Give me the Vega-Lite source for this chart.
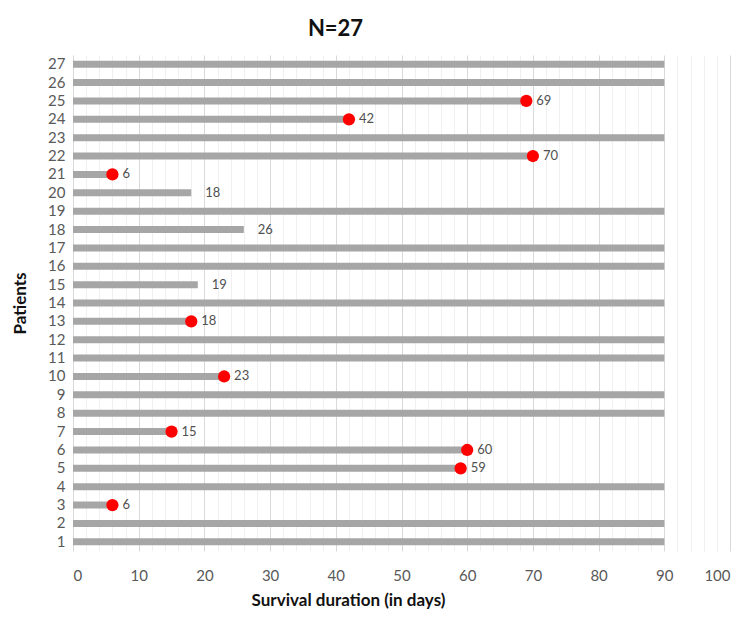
{
  "$schema": "https://vega.github.io/schema/vega-lite/v6.json",
  "width": 657,
  "height": 496,
  "autosize": "none",
  "padding": {"left": 73, "top": 55, "right": 20, "bottom": 70},
  "background": "white",
  "config": {"view": {"stroke": null}, "font": "Lato"},
  "title": {"text": "N=27", "fontSize": 22, "fontWeight": "bold", "font": "Lato", "color": "#111111", "anchor": "middle", "dx": -66, "offset": 14},
  "data": {"values": [
    {"patient": 1, "days": 90, "event": false},
    {"patient": 2, "days": 90, "event": false},
    {"patient": 3, "days": 6, "event": true},
    {"patient": 4, "days": 90, "event": false},
    {"patient": 5, "days": 59, "event": true},
    {"patient": 6, "days": 60, "event": true},
    {"patient": 7, "days": 15, "event": true},
    {"patient": 8, "days": 90, "event": false},
    {"patient": 9, "days": 90, "event": false},
    {"patient": 10, "days": 23, "event": true},
    {"patient": 11, "days": 90, "event": false},
    {"patient": 12, "days": 90, "event": false},
    {"patient": 13, "days": 18, "event": true},
    {"patient": 14, "days": 90, "event": false},
    {"patient": 15, "days": 19, "event": false},
    {"patient": 16, "days": 90, "event": false},
    {"patient": 17, "days": 90, "event": false},
    {"patient": 18, "days": 26, "event": false},
    {"patient": 19, "days": 90, "event": false},
    {"patient": 20, "days": 18, "event": false},
    {"patient": 21, "days": 6, "event": true},
    {"patient": 22, "days": 70, "event": true},
    {"patient": 23, "days": 90, "event": false},
    {"patient": 24, "days": 42, "event": true},
    {"patient": 25, "days": 69, "event": true},
    {"patient": 26, "days": 90, "event": false},
    {"patient": 27, "days": 90, "event": false}
  ]},
  "encoding": {
    "y": {
      "field": "patient", "type": "ordinal", "sort": "descending",
      "scale": {"paddingInner": 0, "paddingOuter": 0},
      "axis": {"title": "Patients", "titleFontSize": 17, "titleFontWeight": "bold", "titleColor": "#111111", "titlePadding": 18,
               "labelFontSize": 15, "labelColor": "#595959", "ticks": false, "domain": false, "labelPadding": 8, "grid": false}
    }
  },
  "layer": [
    {
      "mark": {"type": "bar", "color": "#a6a6a6", "size": 7},
      "encoding": {
        "x": {
          "field": "days", "type": "quantitative",
          "scale": {"domain": [0, 100], "nice": false, "zero": true},
          "axis": {
            "title": "Survival duration (in days)", "titleFontSize": 17, "titleFontWeight": "bold", "titleColor": "#111111",
            "titlePadding": 9, "titleX": 275,
            "tickCount": 100,
            "values": [0,2,4,6,8,10,12,14,16,18,20,22,24,26,28,30,32,34,36,38,40,42,44,46,48,50,52,54,56,58,60,62,64,66,68,70,72,74,76,78,80,82,84,86,88,90,92,94,96,98,100],
            "labelExpr": "datum.value % 10 === 0 ? datum.label : ''",
            "labelOverlap": false,
            "labelFontSize": 15, "labelColor": "#595959", "labelPadding": 17,
            "ticks": false, "domain": false,
            "grid": true,
            "gridColor": {"condition": {"test": "datum.value % 10 === 0", "value": "#d9d9d9"}, "value": "#f0f0f0"},
            "gridWidth": 1
          }
        }
      }
    },
    {
      "transform": [{"filter": "datum.event"}],
      "mark": {"type": "circle", "color": "#ff0000", "opacity": 1, "size": 150},
      "encoding": {"x": {"field": "days", "type": "quantitative"}}
    },
    {
      "transform": [{"filter": "datum.event"}],
      "mark": {"type": "text", "align": "left", "dx": 10, "fontSize": 13, "color": "#505050"},
      "encoding": {"x": {"field": "days", "type": "quantitative"}, "text": {"field": "days"}}
    },
    {
      "transform": [{"filter": "!datum.event && datum.days < 90"}],
      "mark": {"type": "text", "align": "left", "dx": 14, "fontSize": 13, "color": "#505050"},
      "encoding": {"x": {"field": "days", "type": "quantitative"}, "text": {"field": "days"}}
    }
  ]
}
